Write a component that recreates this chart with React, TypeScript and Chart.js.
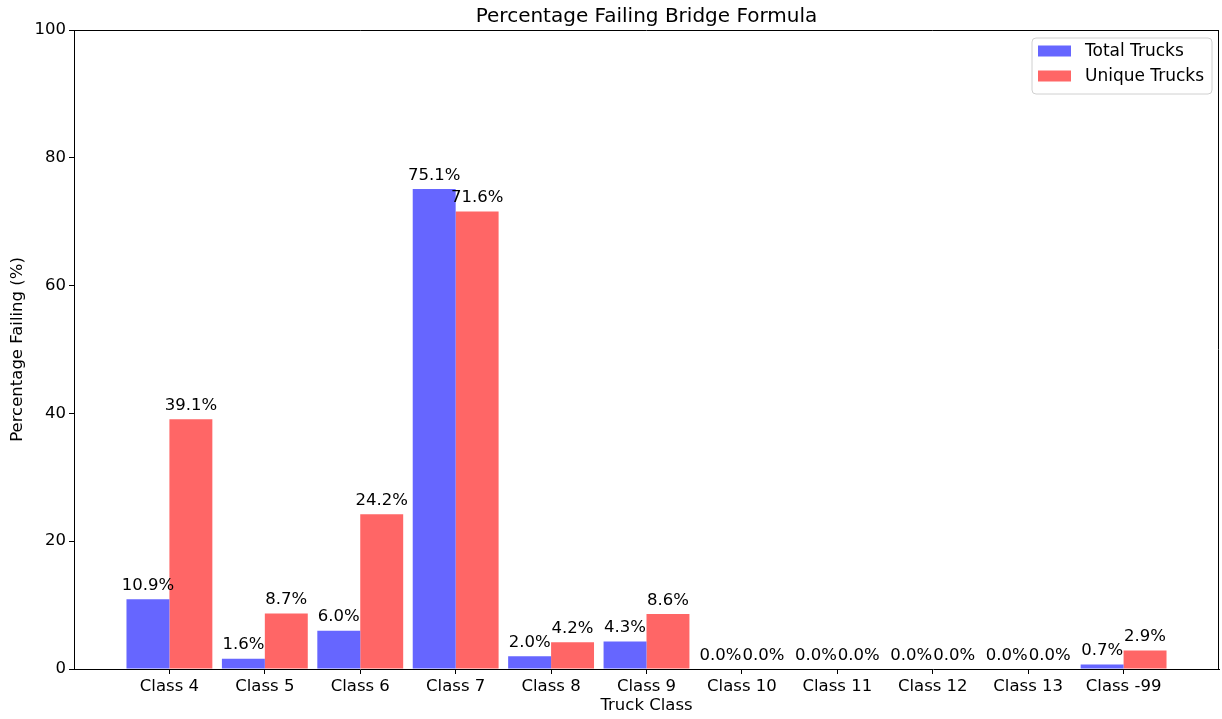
import React, { useEffect, useRef } from "react";
import Chart from "chart.js/auto";

const categories = ["Class 4", "Class 5", "Class 6", "Class 7", "Class 8", "Class 9", "Class 10", "Class 11", "Class 12", "Class 13", "Class -99"];
const totalTrucks = [10.9, 1.6, 6.0, 75.1, 2.0, 4.3, 0.0, 0.0, 0.0, 0.0, 0.7];
const uniqueTrucks = [39.1, 8.7, 24.2, 71.6, 4.2, 8.6, 0.0, 0.0, 0.0, 0.0, 2.9];
const yTicks = [0, 20, 40, 60, 80, 100];

const FONT = "'DejaVu Sans', sans-serif";
const BLUE = "#6666ff";
const RED = "#ff6666";
const FS = 16.5;

export default function App() {
  const ref = useRef<HTMLCanvasElement | null>(null);

  useEffect(() => {
    const canvas = ref.current;
    if (!canvas) return;
    const labels = ["", ...categories, ""];
    const pad = (a: number[]) => [null, ...a, null];

    const overlay = {
      id: "overlay",
      afterDraw(chart: any) {
        const ctx = chart.ctx;
        const a = chart.chartArea;
        ctx.save();
        ctx.strokeStyle = "#000";
        ctx.lineWidth = 1;
        ctx.beginPath();
        ctx.moveTo(a.left, a.top + 0.5);
        ctx.lineTo(a.right, a.top + 0.5);
        ctx.moveTo(a.right - 0.5, a.top);
        ctx.lineTo(a.right - 0.5, a.bottom);
        ctx.stroke();

        ctx.fillStyle = "#000";
        ctx.font = `20px ${FONT}`;
        ctx.textAlign = "center";
        ctx.textBaseline = "alphabetic";
        ctx.fillText("Percentage Failing Bridge Formula", (a.left + a.right) / 2, 22);
        ctx.font = `${FS}px ${FONT}`;
        ctx.textBaseline = "middle";
        ctx.fillText("Truck Class", (a.left + a.right) / 2, 706);
        ctx.save();
        ctx.translate(18, (a.top + a.bottom) / 2);
        ctx.rotate(-Math.PI / 2);
        ctx.fillText("Percentage Failing (%)", 0, 0);
        ctx.restore();

        ctx.font = `${FS}px ${FONT}`;
        ctx.textBaseline = "alphabetic";
        ctx.textAlign = "center";
        chart.data.datasets.forEach((ds: any, di: number) => {
          const meta = chart.getDatasetMeta(di);
          meta.data.forEach((el: any, i: number) => {
            const v = ds.data[i];
            if (v === null || v === undefined) return;
            ctx.fillText(`${v.toFixed(1)}%`, el.x, el.y - 9.5);
          });
        });

        const lx = 1032, ly = 38, lw = 180, lh = 56, r = 4;
        ctx.beginPath();
        ctx.moveTo(lx + r, ly);
        ctx.lineTo(lx + lw - r, ly);
        ctx.quadraticCurveTo(lx + lw, ly, lx + lw, ly + r);
        ctx.lineTo(lx + lw, ly + lh - r);
        ctx.quadraticCurveTo(lx + lw, ly + lh, lx + lw - r, ly + lh);
        ctx.lineTo(lx + r, ly + lh);
        ctx.quadraticCurveTo(lx, ly + lh, lx, ly + lh - r);
        ctx.lineTo(lx, ly + r);
        ctx.quadraticCurveTo(lx, ly, lx + r, ly);
        ctx.closePath();
        ctx.fillStyle = "rgba(255,255,255,0.8)";
        ctx.fill();
        ctx.strokeStyle = "#d0d0d0";
        ctx.stroke();
        const entries = [
          { label: "Total Trucks", color: BLUE, y: 51 },
          { label: "Unique Trucks", color: RED, y: 76 },
        ];
        ctx.font = `17px ${FONT}`;
        ctx.textAlign = "left";
        ctx.textBaseline = "middle";
        entries.forEach((e) => {
          ctx.fillStyle = e.color;
          ctx.fillRect(1038, e.y - 5.5, 33, 11);
          ctx.fillStyle = "#000";
          ctx.fillText(e.label, 1085, e.y + 1);
        });
        ctx.restore();
      },
    };

    const chart = new Chart(canvas, {
      type: "bar",
      data: {
        labels,
        datasets: [
          { label: "Total Trucks", data: pad(totalTrucks) as any, backgroundColor: BLUE, borderWidth: 0, categoryPercentage: 0.9, barPercentage: 1 },
          { label: "Unique Trucks", data: pad(uniqueTrucks) as any, backgroundColor: RED, borderWidth: 0, categoryPercentage: 0.9, barPercentage: 1 },
        ],
      },
      options: {
        responsive: false,
        animation: false,
        layout: { padding: { top: 30, right: 3, left: 0, bottom: 0 } },
        plugins: { legend: { display: false }, title: { display: false }, tooltip: { enabled: false } },
        scales: {
          x: {
            type: "category",
            offset: false,
            grid: {
              display: true,
              offset: false,
              drawOnChartArea: false,
              drawTicks: true,
              tickLength: 5,
              color: (c: any) => (c.index === 0 || c.index === labels.length - 1 ? "rgba(0,0,0,0)" : "#000"),
            },
            border: { display: true, color: "#000", width: 1 },
            ticks: { color: "#000", font: { family: FONT, size: FS }, padding: 3, maxRotation: 0, autoSkip: false },
            afterFit: (s: any) => { s.height = 50; },
          },
          y: {
            min: 0,
            max: 100,
            afterBuildTicks: (s: any) => { s.ticks = yTicks.map((v) => ({ value: v })); },
            grid: { display: true, drawOnChartArea: false, drawTicks: true, tickLength: 5, color: "#000" },
            border: { display: true, color: "#000", width: 1 },
            ticks: { color: "#000", font: { family: FONT, size: FS }, padding: 3 },
            afterFit: (s: any) => { s.width = 74; },
          },
        },
      },
      plugins: [overlay],
    });
    return () => chart.destroy();
  }, []);

  return (
    <div style={{ position: "fixed", left: 0, top: 0, width: 1222, height: 719, background: "#fff" }}>
      <canvas ref={ref} width={1222} height={719} style={{ display: "block", width: 1222, height: 719 }} />
    </div>
  );
}
